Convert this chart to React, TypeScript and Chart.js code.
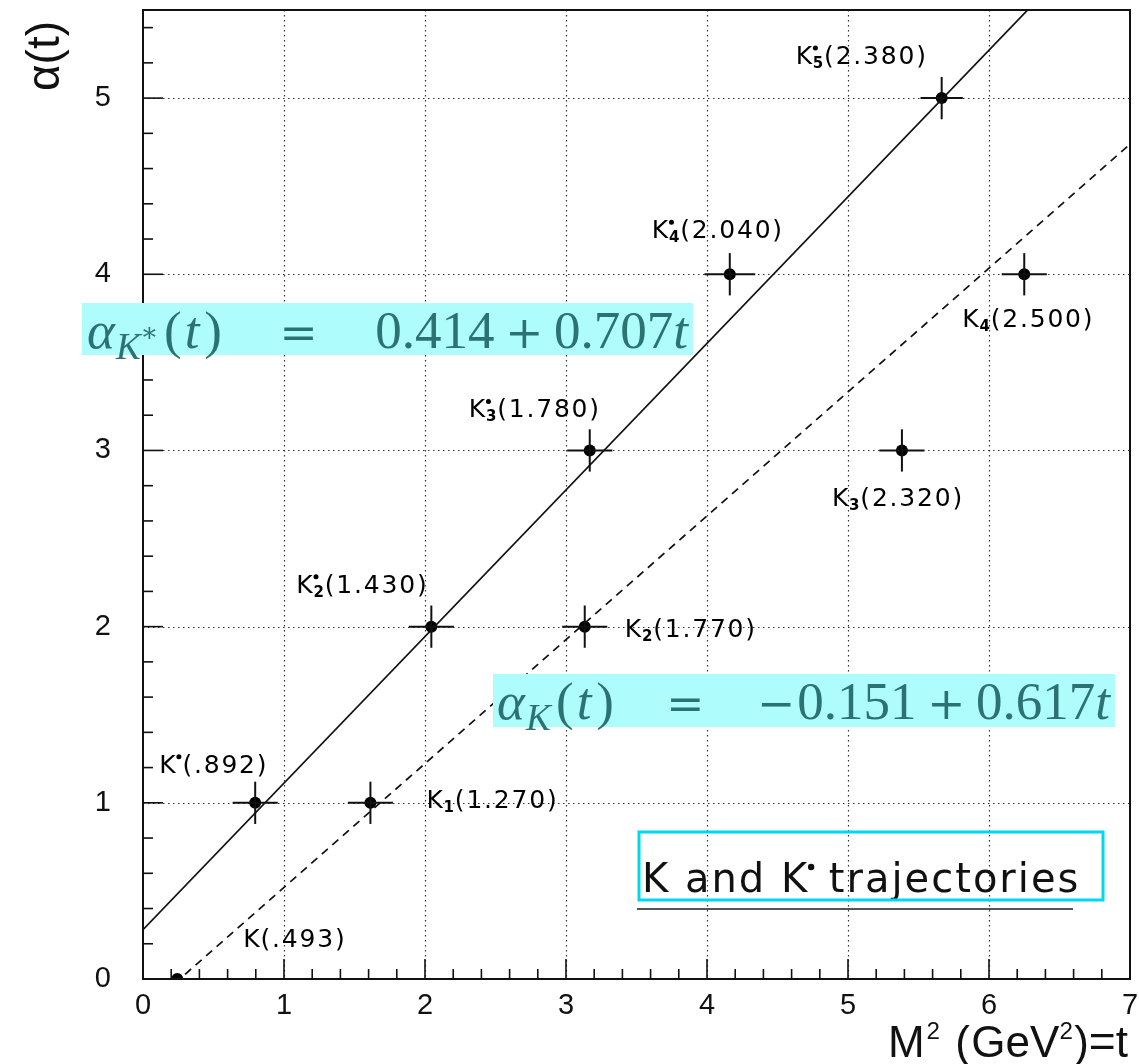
import { useEffect, useRef } from "react";
import { Chart, registerables } from "chart.js";

Chart.register(...registerables);

// K* (vector) family: masses in GeV, spins, state index, printed mass
const kStarMasses = [0.892, 1.43, 1.78, 2.04, 2.38];
const kStarSpins = [1, 2, 3, 4, 5];
const kStarIndices = ["", "2", "3", "4", "5"];
const kStarMassText = [".892", "1.430", "1.780", "2.040", "2.380"];
const kStarErrT = [0.16, 0.16, 0.16, 0.18, 0.15];
const kStarErrA = [0.12, 0.12, 0.12, 0.12, 0.12];

// K (pseudoscalar) family
const kMasses = [0.493, 1.27, 1.77, 2.32, 2.5];
const kSpins = [0, 1, 2, 3, 4];
const kIndices = ["", "1", "2", "3", "4"];
const kMassText = [".493", "1.270", "1.770", "2.320", "2.500"];
const kErrT = [0, 0.16, 0.16, 0.16, 0.16];
const kErrA = [0, 0.12, 0.12, 0.12, 0.12];

// straight trajectories drawn through the states: alpha = a + b t
const lineIntercepts = [0.28, -0.183];
const lineSlopes = [0.832, 0.703];

// fitted forms quoted in the annotations
const fitSigns = ["", "\u2212"];
const fitIntercepts = ["0.414", "0.151"];
const fitSlopes = ["0.707", "0.617"];

// axes
const xTickValues = [0, 1, 2, 3, 4, 5, 6, 7];
const yTickValues = [0, 1, 2, 3, 4, 5];
const X_MIN = 0;
const X_MAX = 7;
const Y_MIN = 0;
const Y_MAX = 5.5;

// label placement (pixel offsets from each point: left edge, baseline)
const kStarLabelOffsets = [
  [-96, -30],
  [-135, -34],
  [-121, -33],
  [-78, -36],
  [-146, -34],
];
const kLabelOffsets = [
  [66, -32],
  [56, 5],
  [40, 10],
  [-70, 56],
  [-62, 53],
];

const INK = "#111";
const SANS = "'Liberation Sans', Arial, sans-serif";
const LABEL_SANS = "'DejaVu Sans', sans-serif";
const SERIF = "'Liberation Serif', 'Times New Roman', serif";
const OP_SERIF = "'DejaVu Serif', serif";
const EQ_FILL = "#aefcfc";
const EQ_TEXT = "#2c7272";

type Seg = {
  t?: string;
  it?: boolean;
  sc?: number;
  dy?: number;
  gap?: number;
  flex?: boolean;
  fam?: string;
};

function segFont(s: Seg, size: number, family: string) {
  return `${s.it ? "italic " : ""}${Math.round(size * (s.sc ?? 1) * 10) / 10}px ${s.fam ?? family}`;
}

// Lays out a run of text pieces; flexible gaps share the room left up to x1.
function drawRun(
  ctx: CanvasRenderingContext2D,
  segs: Seg[],
  x0: number,
  x1: number | null,
  baseline: number,
  size: number,
  family: string,
  color: string,
  alignRight = false
) {
  let fixed = 0;
  let flexCount = 0;
  const widths = segs.map((s) => {
    if (s.t) {
      ctx.font = segFont(s, size, family);
      const w = ctx.measureText(s.t).width;
      fixed += w;
      return w;
    }
    const g = (s.gap ?? 0) * size;
    fixed += g;
    if (s.flex) flexCount++;
    return g;
  });
  const extra = x1 !== null && flexCount ? (x1 - x0 - fixed) / flexCount : 0;
  let x = alignRight ? x0 - fixed : x0;
  ctx.fillStyle = color;
  ctx.textAlign = "left";
  ctx.textBaseline = "alphabetic";
  segs.forEach((s, i) => {
    if (s.t) {
      ctx.font = segFont(s, size, family);
      ctx.fillText(s.t, x, baseline + (s.dy ?? 0) * size);
      x += widths[i];
    } else {
      x += widths[i] + (s.flex ? extra : 0);
    }
  });
}

function fitSegments(i: number): Seg[] {
  const sub: Seg[] =
    i === 0
      ? [
          { t: "K", it: true, sc: 0.7, dy: 0.2 },
          { t: "\u2217", sc: 0.5, dy: -0.14, fam: OP_SERIF },
        ]
      : [{ t: "K", it: true, sc: 0.7, dy: 0.2 }];
  const sign: Seg[] = fitSigns[i] ? [{ t: fitSigns[i], sc: 0.86, fam: OP_SERIF }, { gap: 0.04 }] : [];
  return [
    { t: "\u03b1", it: true },
    { gap: 0.02 },
    ...sub,
    { gap: 0.1 },
    { t: "(" },
    { gap: 0.06 },
    { t: "t", it: true },
    { gap: 0.09 },
    { t: ")" },
    { gap: 0.6, flex: true },
    { t: "=", sc: 0.86, fam: OP_SERIF },
    { gap: 0.6, flex: true },
    ...sign,
    { t: fitIntercepts[i] },
    { gap: 0.2 },
    { t: "+", sc: 0.86, fam: OP_SERIF },
    { gap: 0.2 },
    { t: fitSlopes[i] },
    { t: "t", it: true },
  ];
}

function drawResonance(
  ctx: CanvasRenderingContext2D,
  x: number,
  baseline: number,
  index: string,
  starred: boolean,
  mass: string
) {
  ctx.fillStyle = "#000";
  ctx.textAlign = "left";
  ctx.textBaseline = "alphabetic";
  (ctx as any).letterSpacing = "1.8px";
  ctx.font = `25px ${LABEL_SANS}`;
  ctx.fillText("K", x, baseline);
  let cx = x + ctx.measureText("K").width - 1;
  let adv = 0;
  if (starred) {
    ctx.beginPath();
    ctx.arc(cx + 2.5, baseline - 16, 2.5, 0, Math.PI * 2);
    ctx.fill();
    adv = 6;
  }
  if (index) {
    ctx.font = `bold 15px ${LABEL_SANS}`;
    ctx.fillText(index, cx, baseline + 4);
    adv = Math.max(adv, ctx.measureText(index).width - 1);
  }
  cx += adv;
  ctx.font = `25px ${LABEL_SANS}`;
  ctx.fillText(`(${mass})`, cx, baseline);
  (ctx as any).letterSpacing = "0px";
}

const overlay = {
  id: "reggeOverlay",
  beforeDatasetsDraw(chart: any) {
    const { ctx, chartArea: a, scales } = chart;
    const xs = scales.x;
    const ys = scales.y;
    ctx.save();
    ctx.strokeStyle = "#333";
    ctx.lineWidth = 1.2;
    ctx.setLineDash([1.5, 3.5]);
    xTickValues.slice(1, -1).forEach((v) => {
      const px = Math.round(xs.getPixelForValue(v)) + 0.5;
      ctx.beginPath();
      ctx.moveTo(px, a.top);
      ctx.lineTo(px, a.bottom);
      ctx.stroke();
    });
    yTickValues.slice(1).forEach((v) => {
      const py = Math.round(ys.getPixelForValue(v)) + 0.5;
      ctx.beginPath();
      ctx.moveTo(a.left, py);
      ctx.lineTo(a.right, py);
      ctx.stroke();
    });
    ctx.restore();
  },
  afterDatasetsDraw(chart: any) {
    const { ctx, chartArea: a, scales } = chart;
    const xs = scales.x;
    const ys = scales.y;
    ctx.save();

    // error bars
    ctx.strokeStyle = INK;
    ctx.lineWidth = 2;
    const bars = (ms: number[], js: number[], et: number[], ea: number[]) => {
      ms.forEach((m, i) => {
        const t = m * m;
        if (et[i] > 0) {
          ctx.beginPath();
          ctx.moveTo(xs.getPixelForValue(t - et[i]), ys.getPixelForValue(js[i]));
          ctx.lineTo(xs.getPixelForValue(t + et[i]), ys.getPixelForValue(js[i]));
          ctx.stroke();
        }
        if (ea[i] > 0) {
          ctx.beginPath();
          ctx.moveTo(xs.getPixelForValue(t), ys.getPixelForValue(js[i] - ea[i]));
          ctx.lineTo(xs.getPixelForValue(t), ys.getPixelForValue(js[i] + ea[i]));
          ctx.stroke();
        }
      });
    };
    bars(kStarMasses, kStarSpins, kStarErrT, kStarErrA);
    bars(kMasses, kSpins, kErrT, kErrA);

    // frame
    ctx.lineWidth = 2;
    ctx.strokeRect(a.left, a.top, a.right - a.left, a.bottom - a.top);

    // inward ticks on the bottom and left axes
    ctx.lineWidth = 1.6;
    for (let i = 0; X_MIN + i * 0.2 <= X_MAX + 1e-9; i++) {
      const major = i % 5 === 0;
      const px = xs.getPixelForValue(X_MIN + i * 0.2);
      ctx.beginPath();
      ctx.moveTo(px, a.bottom);
      ctx.lineTo(px, a.bottom - (major ? 20 : 10));
      ctx.stroke();
    }
    for (let i = 0; Y_MIN + i * 0.2 <= Y_MAX + 1e-9; i++) {
      const major = i % 5 === 0;
      const py = ys.getPixelForValue(Y_MIN + i * 0.2);
      ctx.beginPath();
      ctx.moveTo(a.left, py);
      ctx.lineTo(a.left + (major ? 20 : 10), py);
      ctx.stroke();
    }

    // state labels
    kStarMasses.forEach((m, i) => {
      const px = xs.getPixelForValue(m * m);
      const py = ys.getPixelForValue(kStarSpins[i]);
      const [dx, dy] = kStarLabelOffsets[i];
      drawResonance(ctx, px + dx, py + dy, kStarIndices[i], true, kStarMassText[i]);
    });
    kMasses.forEach((m, i) => {
      const px = xs.getPixelForValue(m * m);
      const py = ys.getPixelForValue(kSpins[i]);
      const [dx, dy] = kLabelOffsets[i];
      drawResonance(ctx, px + dx, py + dy, kIndices[i], false, kMassText[i]);
    });

    // highlighted fit formulas
    ctx.fillStyle = EQ_FILL;
    ctx.fillRect(82, 303, 611, 52);
    drawRun(ctx, fitSegments(0), 87, 688, 348, 53, SERIF, EQ_TEXT);
    ctx.fillStyle = EQ_FILL;
    ctx.fillRect(493, 674, 622, 53);
    drawRun(ctx, fitSegments(1), 497, 1110, 719, 53, SERIF, EQ_TEXT);

    // caption with outline and underline
    ctx.strokeStyle = "#555";
    ctx.lineWidth = 2;
    ctx.beginPath();
    ctx.moveTo(637, 909);
    ctx.lineTo(1073, 909);
    ctx.stroke();
    ctx.fillStyle = INK;
    ctx.font = `40px ${LABEL_SANS}`;
    ctx.textAlign = "left";
    ctx.textBaseline = "alphabetic";
    (ctx as any).letterSpacing = "2px";
    const head = "K and K";
    ctx.fillText(head, 642, 892);
    const cx = 642 + ctx.measureText(head).width;
    ctx.beginPath();
    ctx.arc(cx + 2, 867, 3.2, 0, Math.PI * 2);
    ctx.fill();
    ctx.fillText(" trajectories", cx + 5, 892);
    (ctx as any).letterSpacing = "0px";
    ctx.strokeStyle = "#00d8f2";
    ctx.lineWidth = 3;
    ctx.strokeRect(639, 832, 464, 68);

    // axis titles
    ctx.save();
    ctx.translate(46, 56);
    ctx.rotate(-Math.PI / 2);
    ctx.fillStyle = INK;
    ctx.font = `46px ${SANS}`;
    ctx.textAlign = "center";
    ctx.textBaseline = "middle";
    ctx.fillText("\u03b1(t)", 0, 0);
    ctx.restore();

    drawRun(
      ctx,
      [
        { t: "M" },
        { gap: 0.04 },
        { t: "2", sc: 0.55, dy: -0.42 },
        { gap: 0.35 },
        { t: "(" },
        { gap: 0.03 },
        { t: "GeV" },
        { t: "2", sc: 0.55, dy: -0.42 },
        { gap: 0.03 },
        { t: ")" },
        { t: "=", sc: 1.05 },
        { t: "t" },
      ],
      1128,
      null,
      1057,
      44,
      SANS,
      INK,
      true
    );

    ctx.restore();
  },
};

export default function App() {
  const canvasRef = useRef<HTMLCanvasElement>(null);

  useEffect(() => {
    document.body.style.margin = "0";
    const canvas = canvasRef.current;
    if (!canvas) return;

    const trajectory = (i: number) =>
      [X_MIN, X_MAX].map((t) => ({ x: t, y: lineIntercepts[i] + lineSlopes[i] * t }));
    const states = (ms: number[], js: number[]) => ms.map((m, i) => ({ x: m * m, y: js[i] }));

    const tickFont = { family: SANS, size: 29 };

    const chart = new Chart(canvas, {
      type: "scatter",
      data: {
        datasets: [
          {
            type: "line",
            data: trajectory(0),
            borderColor: INK,
            borderWidth: 1.7,
            pointRadius: 0,
            fill: false,
          },
          {
            type: "line",
            data: trajectory(1),
            borderColor: INK,
            borderWidth: 1.7,
            borderDash: [8, 6],
            pointRadius: 0,
            fill: false,
          },
          {
            data: states(kStarMasses, kStarSpins),
            pointRadius: 6,
            pointBackgroundColor: "#000",
            pointBorderWidth: 0,
          },
          {
            data: states(kMasses, kSpins),
            pointRadius: 6,
            pointBackgroundColor: "#000",
            pointBorderWidth: 0,
          },
        ],
      } as any,
      options: {
        responsive: false,
        animation: false,
        devicePixelRatio: 1,
        events: [],
        layout: { padding: { top: 10, right: 9, left: 0, bottom: 0 } },
        plugins: { legend: { display: false }, tooltip: { enabled: false } },
        scales: {
          x: {
            type: "linear",
            min: X_MIN,
            max: X_MAX,
            grid: { display: false },
            border: { display: false },
            ticks: { font: tickFont, color: INK, padding: 2, maxRotation: 0 },
            afterBuildTicks: (s: any) => {
              s.ticks = xTickValues.map((v) => ({ value: v }));
            },
            afterFit: (s: any) => {
              s.height = 85;
              s.paddingLeft = 0;
              s.paddingRight = 0;
            },
          },
          y: {
            type: "linear",
            min: Y_MIN,
            max: Y_MAX,
            grid: { display: false },
            border: { display: false },
            ticks: { font: tickFont, color: INK, padding: 24 },
            afterBuildTicks: (s: any) => {
              s.ticks = yTickValues.map((v) => ({ value: v }));
            },
            afterFit: (s: any) => {
              s.width = 143;
              s.paddingTop = 0;
              s.paddingBottom = 0;
            },
          },
        },
      } as any,
      plugins: [overlay],
    });

    return () => chart.destroy();
  }, []);

  return (
    <div style={{ width: 1139, height: 1064 }}>
      <canvas ref={canvasRef} width={1139} height={1064} style={{ display: "block" }} />
    </div>
  );
}
